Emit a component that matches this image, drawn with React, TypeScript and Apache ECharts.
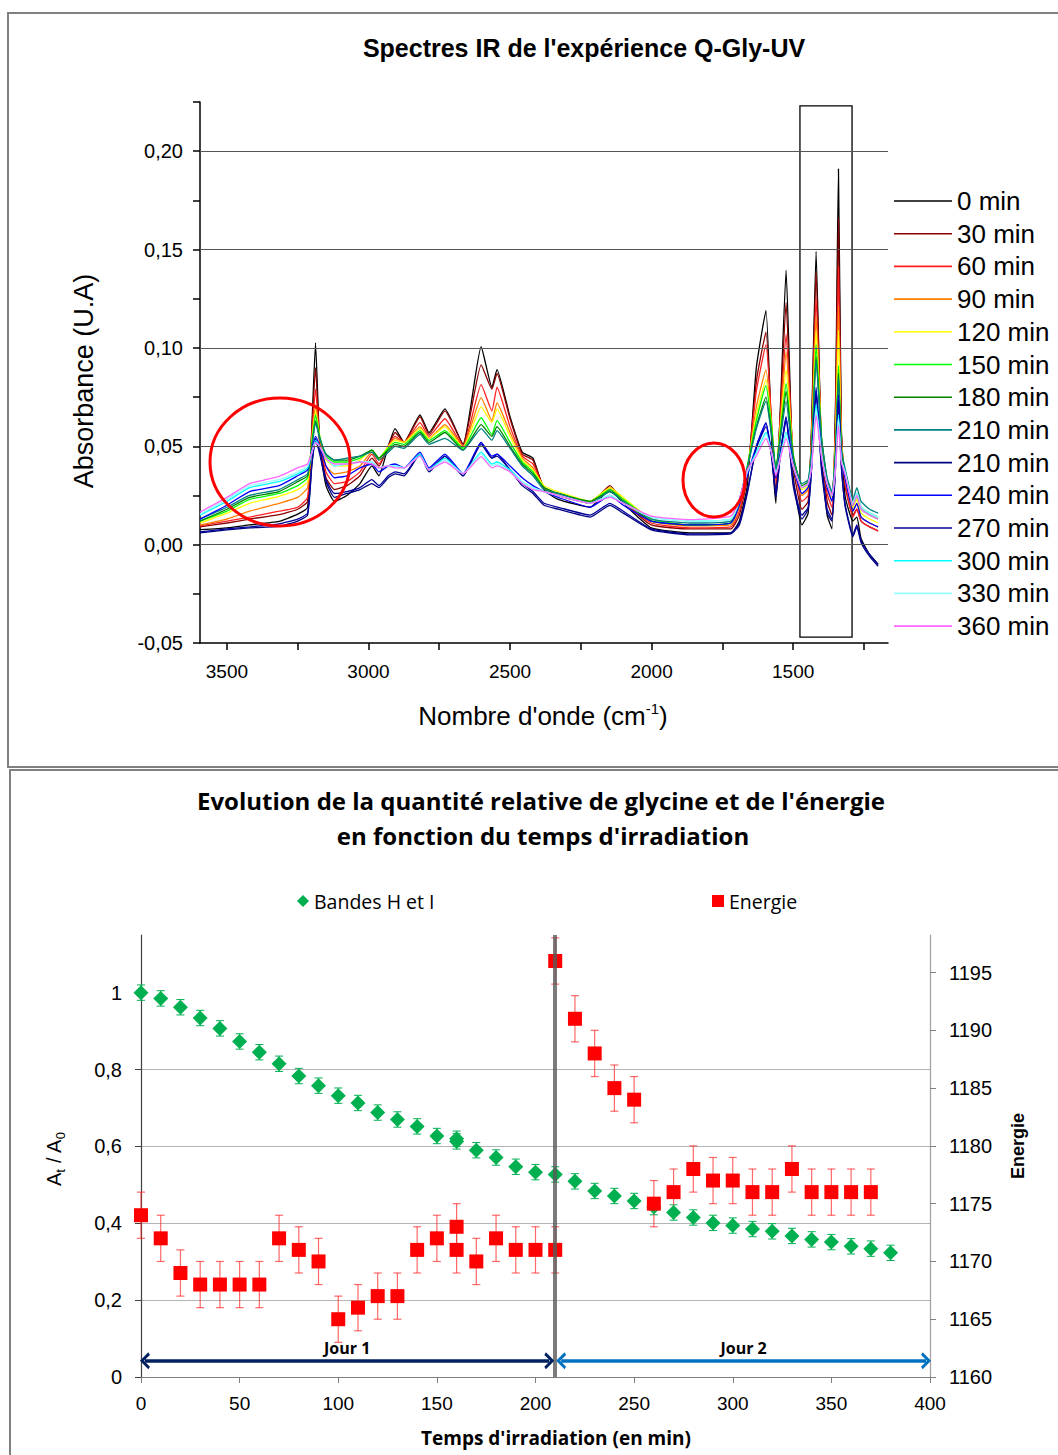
import React, { useEffect, useRef } from 'react';
import * as echarts from 'echarts';

// ---------- Top chart: IR spectra ----------
const wavenumbers = [
  3595, 3500, 3420, 3316, 3250, 3215, 3200, 3187, 3172, 3150,
  3120, 3076, 3030, 2988, 2963, 2930, 2906, 2874, 2818, 2786,
  2730, 2666, 2602, 2564, 2546, 2500, 2457, 2419, 2380, 2330,
  2217, 2147, 2100, 2001, 1864, 1720, 1690, 1662, 1630, 1596,
  1575, 1561, 1545, 1525, 1500, 1469, 1447, 1435, 1419, 1400,
  1380, 1363, 1350, 1340, 1330, 1317, 1289, 1275, 1260, 1230,
  1200,
];

const spectrumLabels = ['0 min', '30 min', '60 min', '90 min', '120 min', '150 min', '180 min', '210 min', '210 min', '240 min', '270 min', '300 min', '330 min', '360 min'];
const spectrumColors = ['#000000', '#8B0000', '#FF2020', '#FF8000', '#FFFF00', '#00FF00', '#008000', '#008080', '#000080', '#0000FF', '#00009A', '#00FFFF', '#99FFFF', '#FF66FF'];

const abs0 = [
  0.0076, 0.0085, 0.010, 0.0118, 0.0155, 0.019, 0.060, 0.1026, 0.050, 0.030,
  0.022, 0.025, 0.031, 0.040, 0.035, 0.050, 0.059, 0.052, 0.066, 0.057,
  0.069, 0.051, 0.1006, 0.080, 0.089, 0.065, 0.047, 0.044, 0.028, 0.023,
  0.019, 0.028, 0.021, 0.0085, 0.006, 0.006, 0.012, 0.030, 0.090, 0.119,
  0.050, 0.021, 0.070, 0.1395, 0.035, 0.010, 0.016, 0.060, 0.149, 0.045,
  0.015, 0.008, 0.075, 0.191, 0.060, 0.025, 0.012, 0.014, 0.003, -0.005,
  -0.010,
];
const abs30 = [
  0.009, 0.011, 0.013, 0.0152, 0.018, 0.022, 0.058, 0.090, 0.052, 0.034,
  0.028, 0.030, 0.035, 0.044, 0.040, 0.050, 0.057, 0.052, 0.065, 0.056,
  0.068, 0.051, 0.0914, 0.079, 0.087, 0.064, 0.046, 0.043, 0.029, 0.025,
  0.021, 0.030, 0.022, 0.010, 0.008, 0.008, 0.015, 0.034, 0.083, 0.108,
  0.055, 0.028, 0.068, 0.123, 0.040, 0.018, 0.022, 0.058, 0.139, 0.050,
  0.022, 0.015, 0.070, 0.166, 0.058, 0.030, 0.015, 0.018, 0.012, 0.009,
  0.007,
];
const abs60 = [
  0.0095, 0.012, 0.014, 0.017, 0.019, 0.024, 0.056, 0.079, 0.053, 0.037,
  0.031, 0.032, 0.037, 0.046, 0.041, 0.050, 0.055, 0.052, 0.062, 0.055,
  0.064, 0.050, 0.0813, 0.068, 0.080, 0.060, 0.045, 0.041, 0.029, 0.025,
  0.021, 0.029, 0.022, 0.011, 0.0085, 0.009, 0.017, 0.036, 0.078, 0.1016,
  0.060, 0.032, 0.065, 0.107, 0.045, 0.022, 0.025, 0.055, 0.1255, 0.052,
  0.026, 0.019, 0.062, 0.141, 0.056, 0.032, 0.014, 0.018, 0.012, 0.009,
  0.007,
];
const abs90 = [
  0.010, 0.013, 0.017, 0.021, 0.024, 0.029, 0.054, 0.071, 0.054, 0.040,
  0.036, 0.037, 0.040, 0.047, 0.043, 0.050, 0.054, 0.052, 0.060, 0.054,
  0.061, 0.050, 0.0747, 0.063, 0.072, 0.057, 0.044, 0.039, 0.029, 0.026,
  0.022, 0.029, 0.023, 0.012, 0.0095, 0.010, 0.019, 0.038, 0.070, 0.089,
  0.058, 0.035, 0.062, 0.098, 0.045, 0.025, 0.028, 0.052, 0.116, 0.054,
  0.029, 0.022, 0.057, 0.121, 0.054, 0.034, 0.017, 0.021, 0.014, 0.011,
  0.009,
];
const abs120 = [
  0.011, 0.016, 0.021, 0.0245, 0.028, 0.032, 0.053, 0.068, 0.055, 0.043,
  0.040, 0.040, 0.043, 0.048, 0.044, 0.050, 0.053, 0.052, 0.059, 0.054,
  0.060, 0.049, 0.070, 0.062, 0.069, 0.055, 0.043, 0.038, 0.030, 0.027,
  0.022, 0.029, 0.024, 0.013, 0.010, 0.011, 0.021, 0.039, 0.066, 0.084,
  0.058, 0.037, 0.060, 0.089, 0.046, 0.028, 0.030, 0.050, 0.109, 0.055,
  0.031, 0.024, 0.054, 0.109, 0.052, 0.036, 0.019, 0.023, 0.016, 0.013,
  0.011,
];
const abs150 = [
  0.012, 0.017, 0.023, 0.026, 0.030, 0.034, 0.052, 0.066, 0.055, 0.045,
  0.042, 0.042, 0.044, 0.048, 0.044, 0.049, 0.052, 0.051, 0.058, 0.053,
  0.058, 0.049, 0.0645, 0.056, 0.063, 0.052, 0.042, 0.037, 0.029, 0.026,
  0.022, 0.028, 0.023, 0.013, 0.010, 0.011, 0.022, 0.040, 0.063, 0.081,
  0.058, 0.038, 0.058, 0.082, 0.046, 0.029, 0.031, 0.048, 0.1016, 0.055,
  0.032, 0.025, 0.050, 0.091, 0.050, 0.037, 0.020, 0.025, 0.018, 0.015,
  0.013,
];
const abs180 = [
  0.012, 0.018, 0.024, 0.027, 0.032, 0.035, 0.050, 0.063, 0.054, 0.046,
  0.043, 0.043, 0.045, 0.048, 0.044, 0.048, 0.051, 0.050, 0.057, 0.052,
  0.057, 0.048, 0.061, 0.055, 0.060, 0.050, 0.041, 0.036, 0.029, 0.026,
  0.022, 0.027, 0.022, 0.012, 0.010, 0.011, 0.022, 0.039, 0.060, 0.075,
  0.055, 0.038, 0.055, 0.078, 0.045, 0.030, 0.032, 0.047, 0.0955, 0.054,
  0.033, 0.026, 0.048, 0.087, 0.049, 0.038, 0.021, 0.026, 0.019, 0.016,
  0.014,
];
const abs210a = [
  0.013, 0.019, 0.025, 0.028, 0.033, 0.036, 0.049, 0.062, 0.054, 0.046,
  0.043, 0.044, 0.045, 0.047, 0.043, 0.047, 0.050, 0.049, 0.056, 0.051,
  0.054, 0.048, 0.059, 0.053, 0.058, 0.049, 0.040, 0.035, 0.028, 0.026,
  0.021, 0.027, 0.022, 0.013, 0.011, 0.012, 0.023, 0.039, 0.059, 0.073,
  0.054, 0.038, 0.054, 0.073, 0.044, 0.031, 0.033, 0.047, 0.094, 0.054,
  0.034, 0.027, 0.047, 0.085, 0.049, 0.039, 0.023, 0.029, 0.022, 0.018,
  0.016,
];
const abs210b = [
  0.006, 0.0075, 0.0085, 0.0093, 0.012, 0.015, 0.040, 0.054, 0.046, 0.032,
  0.024, 0.026, 0.028, 0.031, 0.029, 0.034, 0.036, 0.035, 0.046, 0.037,
  0.045, 0.035, 0.052, 0.044, 0.046, 0.038, 0.030, 0.026, 0.020, 0.018,
  0.014, 0.020, 0.016, 0.0075, 0.005, 0.0055, 0.010, 0.026, 0.050, 0.062,
  0.043, 0.024, 0.046, 0.065, 0.030, 0.013, 0.018, 0.038, 0.080, 0.038,
  0.016, 0.012, 0.040, 0.076, 0.040, 0.020, 0.004, 0.009, 0.001, -0.006,
  -0.011,
];
const abs240 = [
  0.013, 0.020, 0.027, 0.030, 0.035, 0.038, 0.048, 0.055, 0.050, 0.040,
  0.034, 0.035, 0.039, 0.041, 0.037, 0.040, 0.041, 0.039, 0.047, 0.039,
  0.046, 0.036, 0.052, 0.045, 0.046, 0.040, 0.034, 0.030, 0.027, 0.024,
  0.019, 0.025, 0.020, 0.012, 0.010, 0.011, 0.020, 0.035, 0.050, 0.0615,
  0.046, 0.034, 0.047, 0.0643, 0.040, 0.026, 0.029, 0.040, 0.0785, 0.046,
  0.029, 0.022, 0.042, 0.075, 0.043, 0.034, 0.017, 0.021, 0.014, 0.011,
  0.009,
];
const abs270 = [
  0.0065, 0.008, 0.009, 0.0105, 0.013, 0.016, 0.041, 0.053, 0.047, 0.033,
  0.026, 0.027, 0.029, 0.033, 0.030, 0.035, 0.037, 0.036, 0.046, 0.038,
  0.045, 0.035, 0.051, 0.044, 0.045, 0.038, 0.031, 0.027, 0.021, 0.019,
  0.015, 0.021, 0.017, 0.008, 0.0055, 0.006, 0.011, 0.027, 0.049, 0.060,
  0.044, 0.026, 0.046, 0.063, 0.032, 0.015, 0.019, 0.039, 0.077, 0.040,
  0.018, 0.013, 0.041, 0.074, 0.041, 0.021, 0.005, 0.010, 0.002, -0.005,
  -0.010,
];
const abs300 = [
  0.015, 0.022, 0.029, 0.032, 0.036, 0.039, 0.047, 0.053, 0.050, 0.044,
  0.040, 0.041, 0.042, 0.042, 0.039, 0.040, 0.040, 0.039, 0.046, 0.038,
  0.044, 0.036, 0.047, 0.041, 0.042, 0.038, 0.032, 0.029, 0.027, 0.025,
  0.021, 0.025, 0.021, 0.014, 0.012, 0.013, 0.022, 0.037, 0.047, 0.057,
  0.046, 0.036, 0.045, 0.057, 0.040, 0.029, 0.031, 0.040, 0.0714, 0.046,
  0.031, 0.025, 0.040, 0.066, 0.043, 0.037, 0.021, 0.026, 0.019, 0.016,
  0.014,
];
const abs330 = [
  0.0155, 0.023, 0.030, 0.033, 0.037, 0.040, 0.047, 0.052, 0.050, 0.044,
  0.040, 0.041, 0.042, 0.042, 0.039, 0.040, 0.040, 0.039, 0.045, 0.038,
  0.043, 0.036, 0.046, 0.040, 0.041, 0.037, 0.032, 0.029, 0.027, 0.025,
  0.021, 0.025, 0.021, 0.014, 0.012, 0.013, 0.022, 0.037, 0.046, 0.056,
  0.046, 0.036, 0.044, 0.056, 0.040, 0.029, 0.031, 0.040, 0.069, 0.046,
  0.031, 0.025, 0.040, 0.064, 0.043, 0.037, 0.021, 0.026, 0.019, 0.016,
  0.014,
];
const abs360 = [
  0.0165, 0.024, 0.031, 0.0347, 0.039, 0.041, 0.047, 0.052, 0.050, 0.044,
  0.041, 0.041, 0.042, 0.041, 0.039, 0.040, 0.039, 0.039, 0.045, 0.038,
  0.042, 0.036, 0.0447, 0.039, 0.040, 0.037, 0.031, 0.028, 0.027, 0.025,
  0.021, 0.024, 0.021, 0.0145, 0.0127, 0.0145, 0.023, 0.038, 0.045, 0.054,
  0.046, 0.035, 0.044, 0.054, 0.040, 0.029, 0.031, 0.039, 0.066, 0.045,
  0.031, 0.025, 0.039, 0.0607, 0.042, 0.036, 0.020, 0.025, 0.018, 0.015,
  0.013,
];
const spectra = [abs0, abs30, abs60, abs90, abs120, abs150, abs180, abs210a, abs210b, abs240, abs270, abs300, abs330, abs360];

const wnLabelValues = [3500, 3000, 2500, 2000, 1500];
const wnTickValues = [3500, 3250, 3000, 2750, 2500, 2250, 2000, 1750, 1500, 1250];
const absLabelValues = [-0.05, 0, 0.05, 0.1, 0.15, 0.2];
const absGridValues = [0, 0.05, 0.1, 0.15, 0.2];
const absTickValues = [-0.05, -0.025, 0, 0.025, 0.05, 0.075, 0.1, 0.125, 0.15, 0.175, 0.2, 0.225];
const boxRange = [1476, 1292, 0.223, -0.047];

// ---------- Bottom chart: glycine & energy ----------
const glyTime = [0, 10, 20, 30, 40, 50, 60, 70, 80, 90, 100, 110, 120, 130, 140, 150, 160, 160, 170, 180, 190, 200, 210,
  220, 230, 240, 250, 260, 270, 280, 290, 300, 310, 320, 330, 340, 350, 360, 370, 380];
const glyValue = [1.0, 0.985, 0.962, 0.934, 0.907, 0.873, 0.845, 0.815, 0.783, 0.758, 0.732, 0.713, 0.688, 0.670, 0.652, 0.627, 0.613, 0.620, 0.590, 0.571, 0.547, 0.533, 0.527,
  0.509, 0.484, 0.471, 0.458, 0.442, 0.428, 0.415, 0.401, 0.394, 0.385, 0.379, 0.367, 0.358, 0.351, 0.340, 0.334, 0.323];
const glyError = 0.02;

const energyTime = [0, 10, 20, 30, 40, 50, 60, 70, 80, 90, 100, 110, 120, 130, 140, 150, 160, 160, 170, 180, 190, 200, 210, 210,
  220, 230, 240, 250, 260, 270, 280, 290, 300, 310, 320, 330, 340, 350, 360, 370];
const energyValue = [1174, 1172, 1169, 1168, 1168, 1168, 1168, 1172, 1171, 1170, 1165, 1166, 1167, 1167, 1171, 1172, 1173, 1171, 1170, 1172, 1171, 1171, 1171, 1196,
  1191, 1188, 1185, 1184, 1175, 1176, 1178, 1177, 1177, 1176, 1176, 1178, 1176, 1176, 1176, 1176];
const energyError = 2;

const timeTicks = [0, 50, 100, 150, 200, 250, 300, 350, 400];
const ratioTicks = [0, 0.2, 0.4, 0.6, 0.8, 1];
const energyTicks = [1160, 1165, 1170, 1175, 1180, 1185, 1190, 1195];
const dayBoundary = 210;
const day1 = [2, 207];
const day2 = [213, 398];
const dayArrowLevel = 0.042;

const ARIAL = '"Liberation Sans", Arial, sans-serif';
const CALIBRI = '"Open Sans", Lato, sans-serif';

const chevron = 'path://M0,62 L50,0 L100,62 L84,74 L50,30 L16,74 Z';

function errorRenderer(color: string, width: number) {
  return (params: any, api: any) => {
    const x = api.value(0);
    const lo = api.value(1);
    const hi = api.value(2);
    const pHi = api.coord([x, hi]);
    const pLo = api.coord([x, lo]);
    const c = 4;
    const style = { stroke: color, lineWidth: width };
    return {
      type: 'group',
      children: [
        { type: 'line', shape: { x1: pHi[0], y1: pHi[1], x2: pLo[0], y2: pLo[1] }, style },
        { type: 'line', shape: { x1: pHi[0] - c, y1: pHi[1], x2: pHi[0] + c, y2: pHi[1] }, style },
        { type: 'line', shape: { x1: pLo[0] - c, y1: pLo[1], x2: pLo[0] + c, y2: pLo[1] }, style },
      ],
    };
  };
}

function buildOption() {
  const seriesNames = spectrumLabels.map((l, i) => `${l}#${i}`);
  const spectraSeries: any[] = spectra.map((arr, i) => ({
    type: 'line',
    name: seriesNames[i],
    xAxisIndex: 0,
    yAxisIndex: 0,
    data: wavenumbers.map((w, j) => [w, arr[j]]),
    showSymbol: false,
    symbol: 'none',
    smooth: 0.15,
    lineStyle: { color: spectrumColors[i], width: 1.3 },
    itemStyle: { color: spectrumColors[i] },
    z: 2,
    ...(i === 0
      ? {
          markArea: {
            silent: true,
            itemStyle: { color: 'rgba(0,0,0,0)', borderColor: '#000', borderWidth: 1.3 },
            data: [[{ coord: [boxRange[0], boxRange[2]] }, { coord: [boxRange[1], boxRange[3]] }]],
          },
        }
      : {}),
  }));

  return {
    animation: false,
    backgroundColor: '#ffffff',
    grid: [
      { left: 200, top: 102, width: 688, height: 541 },
      { left: 141, top: 935, width: 789, height: 442 },
    ],
    xAxis: [
      {
        gridIndex: 0,
        type: 'value',
        inverse: true,
        min: 1165,
        max: 3595,
        axisLine: { show: true, onZero: false, lineStyle: { color: '#000', width: 1.5 } },
        axisTick: { show: true, customValues: wnTickValues, length: 7, lineStyle: { color: '#000', width: 1.5 } },
        axisLabel: { customValues: wnLabelValues, margin: 19, fontFamily: ARIAL, fontSize: 19, color: '#000', formatter: (v: number) => String(v) },
        splitLine: { show: false },
      },
      {
        gridIndex: 1,
        type: 'value',
        min: 0,
        max: 400,
        interval: 50,
        axisLine: { show: true, onZero: false, lineStyle: { color: '#808080', width: 1.2 } },
        axisTick: { show: true, customValues: timeTicks, length: 6, lineStyle: { color: '#808080' } },
        axisLabel: { customValues: timeTicks, margin: 17, fontFamily: ARIAL, fontSize: 19, color: '#000', formatter: (v: number) => String(v) },
        splitLine: { show: false },
      },
    ],
    yAxis: [
      {
        gridIndex: 0,
        type: 'value',
        min: -0.05,
        max: 0.225,
        interval: 0.05,
        axisLine: { show: true, onZero: false, lineStyle: { color: '#000', width: 1.5 } },
        axisTick: { show: true, customValues: absTickValues, length: 7, lineStyle: { color: '#000', width: 1.5 } },
        axisLabel: {
          customValues: absLabelValues,
          margin: 17,
          fontFamily: ARIAL,
          fontSize: 20,
          color: '#000',
          formatter: (v: number) => v.toFixed(2).replace('.', ','),
        },
        splitLine: { show: false },
      },
      {
        gridIndex: 1,
        type: 'value',
        position: 'left',
        min: 0,
        max: 1.15,
        interval: 0.2,
        axisLine: { show: true, onZero: false, lineStyle: { color: '#404040', width: 1.2 } },
        axisTick: { show: true, customValues: ratioTicks, length: 6, lineStyle: { color: '#404040' } },
        axisLabel: {
          customValues: ratioTicks,
          margin: 19,
          fontFamily: ARIAL,
          fontSize: 20,
          color: '#000',
          formatter: (v: number) => String(v).replace('.', ','),
        },
        splitLine: { show: true, showMinLine: false, showMaxLine: false, lineStyle: { color: '#b4b4b4', width: 1 } },
      },
      {
        gridIndex: 1,
        type: 'value',
        position: 'right',
        min: 1160,
        max: 1198.25,
        interval: 5,
        axisLine: { show: true, onZero: false, lineStyle: { color: '#a0a0a0', width: 1.2 } },
        axisTick: { show: true, customValues: energyTicks, length: 6, lineStyle: { color: '#808080' } },
        axisLabel: { customValues: energyTicks, margin: 19, fontFamily: ARIAL, fontSize: 20, color: '#000', formatter: (v: number) => String(v) },
        splitLine: { show: false },
      },
    ],
    legend: [
      {
        data: seriesNames,
        orient: 'vertical',
        left: 889,
        top: 183,
        itemWidth: 58,
        itemHeight: 1.6,
        itemGap: 6.7,
        icon: 'rect',
        selectedMode: false,
        formatter: (n: string) => n.split('#')[0],
        textStyle: { fontFamily: ARIAL, fontSize: 26, lineHeight: 26, color: '#000' },
      },
      {
        data: ['Bandes H et I'],
        left: 292,
        top: 886,
        itemWidth: 12,
        itemHeight: 12,
        icon: 'diamond',
        selectedMode: false,
        textStyle: { fontFamily: CALIBRI, fontSize: 19.5, color: '#000' },
      },
      {
        data: ['Energie'],
        left: 707,
        top: 886,
        itemWidth: 12,
        itemHeight: 12,
        icon: 'rect',
        selectedMode: false,
        textStyle: { fontFamily: CALIBRI, fontSize: 19.5, color: '#000' },
      },
    ],
    series: [
      {
        type: 'line',
        name: 'grid-lines',
        xAxisIndex: 0,
        yAxisIndex: 0,
        data: [],
        z: 1,
        markLine: {
          silent: true,
          symbol: ['none', 'none'],
          label: { show: false },
          lineStyle: { color: '#555', width: 1, type: 'solid' },
          data: absGridValues.map((v) => ({ yAxis: v })),
        },
      },
      ...spectraSeries,
      {
        type: 'custom',
        name: 'errGly',
        xAxisIndex: 1,
        yAxisIndex: 1,
        silent: true,
        data: glyTime.map((t, i) => [t, glyValue[i] - glyError, glyValue[i] + glyError]),
        encode: { x: 0, y: [1, 2] },
        renderItem: errorRenderer('#00B050', 1),
        z: 3,
      },
      {
        type: 'custom',
        name: 'errEnergy',
        xAxisIndex: 1,
        yAxisIndex: 2,
        silent: true,
        data: energyTime.map((t, i) => [t, energyValue[i] - energyError, energyValue[i] + energyError]),
        encode: { x: 0, y: [1, 2] },
        renderItem: errorRenderer('rgba(255,40,40,0.7)', 1.2),
        z: 3,
      },
      {
        type: 'scatter',
        name: 'Bandes H et I',
        xAxisIndex: 1,
        yAxisIndex: 1,
        data: glyTime.map((t, i) => [t, glyValue[i]]),
        symbol: 'diamond',
        symbolSize: 15,
        itemStyle: { color: '#00B050', opacity: 1 },
        z: 4,
      },
      {
        type: 'scatter',
        name: 'Energie',
        xAxisIndex: 1,
        yAxisIndex: 2,
        data: energyTime.map((t, i) => [t, energyValue[i]]),
        symbol: 'rect',
        symbolSize: 14,
        itemStyle: { color: '#FF0000', opacity: 1 },
        z: 4,
      },
      {
        type: 'line',
        name: 'markers',
        xAxisIndex: 1,
        yAxisIndex: 1,
        data: [],
        z: 6,
        markLine: {
          silent: true,
          animation: false,
          data: [
            [
              { coord: [dayBoundary, 0], symbol: 'none', lineStyle: { color: 'rgba(90,90,90,0.8)', width: 4, type: 'solid' }, label: { show: false } },
              { coord: [dayBoundary, 1.15], symbol: 'none' },
            ],
            [
              { coord: [day1[0], dayArrowLevel], symbol: chevron, lineStyle: { color: '#002060', width: 3.5, type: 'solid' }, label: { show: true, formatter: 'Jour 1' } },
              { coord: [day1[1], dayArrowLevel], symbol: chevron },
            ],
            [
              { coord: [day2[0], dayArrowLevel], symbol: chevron, lineStyle: { color: '#0070C0', width: 3.5, type: 'solid' }, label: { show: true, formatter: 'Jour 2' } },
              { coord: [day2[1], dayArrowLevel], symbol: chevron },
            ],
          ],
          symbolSize: [17, 10],
          label: {
            position: 'insideMiddleTop',
            distance: 5,
            fontFamily: CALIBRI,
            fontWeight: 'bold',
            fontSize: 16,
            color: '#000',
          },
        },
      },
    ],
    graphic: [
      { type: 'rect', shape: { x: 8, y: 13, width: 1060, height: 754 }, style: { fill: 'none', stroke: '#808080', lineWidth: 2 }, silent: true },
      { type: 'rect', shape: { x: 10, y: 770, width: 1060, height: 700 }, style: { fill: 'none', stroke: '#808080', lineWidth: 2 }, silent: true },
      { type: 'ellipse', shape: { cx: 280, cy: 462, rx: 70, ry: 64 }, style: { fill: 'none', stroke: '#FF0000', lineWidth: 3 }, silent: true, z: 50 },
      { type: 'ellipse', shape: { cx: 714, cy: 480, rx: 31, ry: 37 }, style: { fill: 'none', stroke: '#FF0000', lineWidth: 3 }, silent: true, z: 50 },
      {
        type: 'text', x: 584, y: 48,
        style: { text: "Spectres IR de l'expérience Q-Gly-UV", fontFamily: ARIAL, fontSize: 25, fontWeight: 'bold', fill: '#000', align: 'center', verticalAlign: 'middle' },
      },
      {
        type: 'text', x: 84, y: 381, rotation: Math.PI / 2,
        style: { text: 'Absorbance (U.A)', fontFamily: ARIAL, fontSize: 27, fill: '#000', align: 'center', verticalAlign: 'middle' },
      },
      {
        type: 'text', x: 543, y: 716,
        style: {
          text: "Nombre d'onde (cm{s|-1})",
          fontFamily: ARIAL, fontSize: 26, lineHeight: 30, fill: '#000', align: 'center', verticalAlign: 'middle',
          rich: { s: { fontFamily: ARIAL, fontSize: 15, lineHeight: 14, verticalAlign: 'top', fill: '#000' } },
        },
      },
      {
        type: 'text', x: 541, y: 800,
        style: { text: "Evolution de la quantité relative de glycine et de l'énergie", fontFamily: CALIBRI, fontSize: 24, fontWeight: 'bold', fill: '#000', align: 'center', verticalAlign: 'middle' },
      },
      {
        type: 'text', x: 543, y: 835,
        style: { text: "en fonction du temps d'irradiation", fontFamily: CALIBRI, fontSize: 24, fontWeight: 'bold', fill: '#000', align: 'center', verticalAlign: 'middle' },
      },
      {
        type: 'text', x: 54, y: 1159, rotation: Math.PI / 2,
        style: {
          text: 'A{b|t} / A{b|0}',
          fontFamily: ARIAL, fontSize: 20, lineHeight: 26, fill: '#000', align: 'center', verticalAlign: 'middle',
          rich: { b: { fontFamily: ARIAL, fontSize: 13, lineHeight: 12, verticalAlign: 'bottom', fill: '#000' } },
        },
      },
      {
        type: 'text', x: 1018, y: 1146, rotation: Math.PI / 2,
        style: { text: 'Energie', fontFamily: ARIAL, fontSize: 18, fontWeight: 'bold', fill: '#000', align: 'center', verticalAlign: 'middle' },
      },
      {
        type: 'text', x: 556, y: 1438,
        style: { text: "Temps d'irradiation (en min)", fontFamily: CALIBRI, fontSize: 19, fontWeight: 'bold', fill: '#000', align: 'center', verticalAlign: 'middle' },
      },
    ],
  };
}

export default function App() {
  const ref = useRef<HTMLDivElement>(null);
  useEffect(() => {
    if (!ref.current) return;
    const chart = echarts.init(ref.current, null, { renderer: 'svg' });
    chart.setOption(buildOption() as any);
    return () => chart.dispose();
  }, []);
  return (
    <div
      ref={ref}
      style={{ position: 'absolute', left: 0, top: 0, width: 1058, height: 1455, background: '#fff' }}
    />
  );
}
